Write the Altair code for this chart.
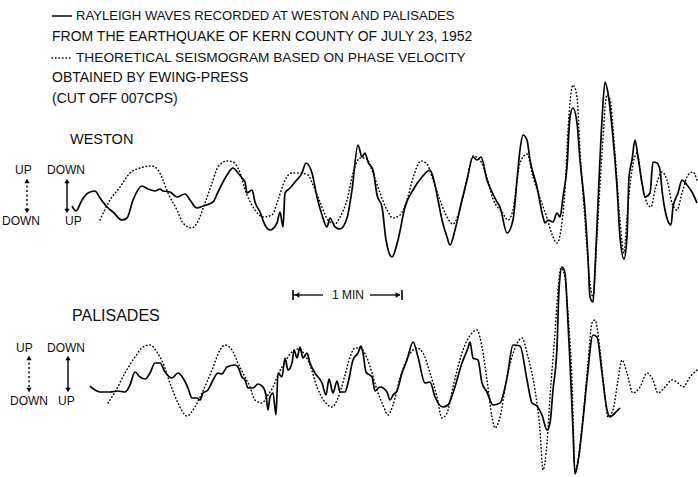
import altair as alt
import pandas as pd

# Record time (chart units along the record) and trace deflection (downward positive)
WESTON_RECORDED = [
    (72,206),(76,211),(82,200),(88,193),(95,191),(100,198),(107,207),(113,212),(122,220),(127,218),
    (133,200),(142,186),(148,189),(155,191),(160,189),(163,191),(170,192),(177,197),(185,194),(190,200),
    (197,208),(203,206),(213,202),(218,192),(227,175),(233,168),(238,173),(242,178),(245,182),(247,193),
    (252,190),(255,202),(260,212),(265,225),(270,230),(277,223),(280,212),(283,227),(285,193),(290,188),
    (295,182),(302,173),(306,163),(312,173),(317,197),(322,215),(327,227),(330,218),(335,227),(340,229),
    (347,218),(352,190),(358,145),(362,157),(365,153),(368,162),(373,170),(377,195),(382,207),(386,240),
    (392,257),(398,240),(405,207),(413,190),(422,177),(430,170),(433,177),(438,200),(442,220),(447,237),
    (450,245),(455,230),(462,200),(467,180),(473,157),(477,160),(481,157),(487,180),(492,192),(497,202),
    (500,207),(507,233),(513,220),(517,180),(520,150),(523,135),(527,140),(530,160),(537,187),(543,217),
    (545,223),(548,220),(553,222),(557,213),(560,217),(563,197),(567,167),(570,117),(573,108),(577,123),
    (580,160),(585,210),(588,257),(590,297),(593,302),(595,270),(598,203),(602,120),(605,82),(608,93),
    (612,127),(617,187),(620,237),(624,259),(627,237),(629,177),(632,160),(635,140),(638,157),(642,183),
    (645,197),(650,193),(653,162),(657,163),(660,170),(662,190),(665,210),(671,225),(673,207),(678,193),
    (682,180),(687,185),(692,192),(697,203),
]
WESTON_THEORY = [
    (100,220),(110,200),(120,187),(130,173),(140,168),(152,166),(158,170),(163,180),(168,193),(177,210),
    (183,223),(192,228),(197,223),(205,203),(212,183),(218,167),(227,161),(233,162),(238,168),(247,195),
    (255,210),(263,217),(272,215),(278,200),(285,180),(292,173),(300,173),(308,175),(313,185),(320,202),
    (328,220),(335,224),(340,217),(347,200),(353,173),(360,158),(366,158),(373,173),(380,193),(387,210),
    (393,218),(400,215),(407,200),(413,178),(421,161),(427,164),(433,180),(440,200),(447,217),(453,224),
    (460,209),(467,179),(473,156),(480,160),(487,178),(493,199),(502,212),(508,220),(513,210),(520,163),
    (527,154),(533,177),(540,198),(547,218),(553,237),(557,243),(562,222),(565,190),(568,130),(573,85),
    (577,97),(580,150),(585,220),(590,283),(593,297),(597,237),(602,153),(607,95),(610,100),(615,153),
    (620,220),(624,253),(627,217),(632,170),(637,153),(642,183),(647,203),(651,207),(655,190),(662,172),
    (667,180),(672,203),(677,210),(682,193),(688,175),(693,172),(697,180),
]
PALISADES_RECORDED = [
    (90,386),(95,390),(100,392),(110,392),(118,391),(125,392),(130,385),(135,372),(140,377),(145,379),
    (150,373),(155,363),(160,363),(165,372),(172,378),(178,373),(183,378),(188,388),(192,398),(197,398),
    (200,400),(203,393),(208,390),(213,380),(218,373),(222,374),(227,367),(235,365),(238,367),(242,377),
    (245,380),(248,388),(253,388),(258,384),(263,387),(266,395),(268,410),(270,397),(273,393),(276,415),
    (278,373),(282,377),(285,358),(288,370),(292,363),(294,350),(297,358),(300,347),(303,358),(307,353),
    (310,363),(315,373),(322,383),(326,395),(329,379),(333,393),(337,381),(340,392),(345,392),(348,383),
    (353,360),(358,353),(361,346),(363,353),(366,372),(372,377),(375,391),(380,387),(387,392),(390,400),
    (393,395),(397,391),(402,373),(407,360),(413,342),(418,357),(425,383),(430,382),(435,397),(443,407),
    (448,405),(453,393),(462,363),(468,348),(470,342),(473,358),(478,360),(482,383),(487,392),(493,405),
    (500,403),(507,378),(513,345),(520,346),(527,380),(532,403),(537,406),(542,415),(547,430),(550,423),
    (553,390),(557,347),(559,290),(562,267),(565,273),(567,303),(570,363),(573,430),(575,474),(578,462),
    (583,420),(587,380),(593,335),(597,337),(602,373),(607,410),(610,417),(615,413),(620,408),
]
PALISADES_THEORY = [
    (108,403),(115,392),(125,373),(135,357),(143,347),(150,345),(157,352),(163,363),(170,383),(178,403),
    (187,416),(193,410),(202,393),(212,370),(220,350),(225,345),(232,350),(238,363),(245,377),(250,387),
    (255,400),(262,403),(268,395),(273,387),(278,375),(285,362),(292,352),(298,349),(305,355),(310,365),
    (317,387),(325,402),(332,407),(338,398),(345,375),(350,357),(355,348),(360,348),(367,358),(372,373),
    (377,390),(383,405),(388,415),(393,405),(400,378),(408,357),(417,348),(423,353),(430,373),(437,397),
    (442,418),(447,413),(453,387),(463,350),(472,333),(477,330),(482,347),(487,380),(492,417),(495,428),
    (500,417),(507,377),(515,348),(522,338),(528,357),(535,390),(540,430),(543,470),(547,443),(550,397),
    (555,333),(558,290),(561,268),(565,277),(568,313),(572,380),(575,472),(578,460),(583,417),(588,363),
    (592,323),(595,320),(600,350),(605,397),(608,417),(613,410),(618,380),(622,360),(627,373),(633,393),
    (640,387),(647,373),(653,380),(658,393),(665,387),(672,380),(678,383),(683,387),(690,377),(697,370),
]

TITLE_LINES = [
    (76, 16, "RAYLEIGH WAVES RECORDED AT WESTON AND PALISADES", 13.1),
    (52, 37, "FROM THE EARTHQUAKE OF KERN COUNTY OF JULY 23, 1952", 14),
    (76, 58, "THEORETICAL SEISMOGRAM BASED ON PHASE VELOCITY", 13.7),
    (52, 78, "OBTAINED BY EWING-PRESS", 14),
    (52, 99, "(CUT OFF 007CPS)", 14),
]
STATION_LABELS = [(70, 140, "WESTON", 14.5), (72, 316, "PALISADES", 16)]
POLARITY_LABELS = [
    (15, 170, "UP"), (47, 170, "DOWN"), (2, 221, "DOWN"), (65, 221, "UP"),
    (16, 348, "UP"), (47, 348, "DOWN"), (10, 401, "DOWN"), (58, 401, "UP"),
]
# polarity arrows: (x, top, bottom, dotted?)
POLARITY_ARROWS = [(27, 178, 214, True), (67, 178, 214, False),
                   (29, 355, 393, True), (68, 355, 393, False)]
# one-minute scale bar
MIN_BAR = (293, 402, 295)
MIN_TEXT = (348, 295, "1 MIN")

X = alt.Scale(domain=[0, 698], nice=False, zero=False)
Y = alt.Scale(domain=[477, 0], nice=False, zero=False)


def trace_df(pts, name):
    return pd.DataFrame({"t": [p[0] for p in pts], "d": [p[1] for p in pts],
                         "i": list(range(len(pts))), "trace": name})


solid_df = pd.concat([trace_df(WESTON_RECORDED, "W"), trace_df(PALISADES_RECORDED, "P")])
dot_df = pd.concat([trace_df(WESTON_THEORY, "W"), trace_df(PALISADES_THEORY, "P")])

enc = dict(x=alt.X("t:Q", scale=X, axis=None), y=alt.Y("d:Q", scale=Y, axis=None),
           detail="trace:N", order="i:Q")

solid = alt.Chart(solid_df).mark_line(color="black", strokeWidth=1.7, interpolate="monotone").encode(**enc)
dotted = alt.Chart(dot_df).mark_line(color="black", strokeWidth=1.5, strokeDash=[0.5, 3.0],
                                     strokeCap="round", interpolate="monotone").encode(**enc)

FONT = "Liberation Sans"
title_df = pd.DataFrame({"x": [r[0] for r in TITLE_LINES], "y": [r[1] for r in TITLE_LINES],
                         "s": [r[2] for r in TITLE_LINES], "fs": [r[3] for r in TITLE_LINES]})
titles = alt.Chart(title_df).mark_text(align="left", baseline="middle", font=FONT,
                                       color="#111111").encode(
    x=alt.X("x:Q", scale=X, axis=None), y=alt.Y("y:Q", scale=Y, axis=None), text="s:N",
    size=alt.Size("fs:Q", scale=None, legend=None))

st_df = pd.DataFrame({"x": [r[0] for r in STATION_LABELS], "y": [r[1] for r in STATION_LABELS],
                      "s": [r[2] for r in STATION_LABELS], "fs": [r[3] for r in STATION_LABELS]})
stations = alt.Chart(st_df).mark_text(align="left", baseline="middle", font=FONT, color="#111111").encode(
    x=alt.X("x:Q", scale=X, axis=None), y=alt.Y("y:Q", scale=Y, axis=None), text="s:N",
    size=alt.Size("fs:Q", scale=None, legend=None))

pol_df = pd.DataFrame({"x": [r[0] for r in POLARITY_LABELS], "y": [r[1] for r in POLARITY_LABELS],
                       "s": [r[2] for r in POLARITY_LABELS]})
pol = alt.Chart(pol_df).mark_text(align="left", baseline="middle", font=FONT, fontSize=12,
                                  color="#111111").encode(
    x=alt.X("x:Q", scale=X, axis=None), y=alt.Y("y:Q", scale=Y, axis=None), text="s:N")

# legend keys beside title lines
key_df = pd.DataFrame({"x": [52, 52], "x2": [72, 73], "y": [16, 58], "k": ["solid", "dot"]})
key_solid = alt.Chart(key_df[key_df.k == "solid"]).mark_rule(color="black", strokeWidth=1.5).encode(
    x=alt.X("x:Q", scale=X, axis=None), x2="x2:Q", y=alt.Y("y:Q", scale=Y, axis=None))
key_dot = alt.Chart(key_df[key_df.k == "dot"]).mark_rule(color="black", strokeWidth=1.5,
                                                        strokeDash=[0.5, 3], strokeCap="round").encode(
    x=alt.X("x:Q", scale=X, axis=None), x2="x2:Q", y=alt.Y("y:Q", scale=Y, axis=None))

# polarity arrows
arr_df = pd.DataFrame({"x": [a[0] for a in POLARITY_ARROWS], "top": [a[1] for a in POLARITY_ARROWS],
                       "bot": [a[2] for a in POLARITY_ARROWS], "dotted": [a[3] for a in POLARITY_ARROWS]})
arr_df["top_in"] = arr_df["top"] + 3
arr_df["bot_in"] = arr_df["bot"] - 3
shaft_solid = alt.Chart(arr_df[~arr_df.dotted]).mark_rule(color="black", strokeWidth=1.4).encode(
    x=alt.X("x:Q", scale=X, axis=None), y=alt.Y("top_in:Q", scale=Y, axis=None), y2="bot_in:Q")
shaft_dot = alt.Chart(arr_df[arr_df.dotted]).mark_rule(color="black", strokeWidth=1.4,
                                                      strokeDash=[2, 2.5]).encode(
    x=alt.X("x:Q", scale=X, axis=None), y=alt.Y("top_in:Q", scale=Y, axis=None), y2="bot_in:Q")
head_up = alt.Chart(arr_df).mark_point(shape="triangle-up", filled=True, color="black", size=28,
                                       opacity=1).encode(
    x=alt.X("x:Q", scale=X, axis=None), y=alt.Y("top_in:Q", scale=Y, axis=None))
head_down = alt.Chart(arr_df).mark_point(shape="triangle-down", filled=True, color="black", size=28,
                                         opacity=1).encode(
    x=alt.X("x:Q", scale=X, axis=None), y=alt.Y("bot_in:Q", scale=Y, axis=None))

# one-minute bar
x0, x1, yb = MIN_BAR
bar_df = pd.DataFrame({"a": [x0, 370], "b": [323, x1 - 2], "y": [yb, yb]})
bar_lines = alt.Chart(bar_df).mark_rule(color="black", strokeWidth=1.3).encode(
    x=alt.X("a:Q", scale=X, axis=None), x2="b:Q", y=alt.Y("y:Q", scale=Y, axis=None))
ends_df = pd.DataFrame({"x": [x0, x1], "y1": [yb - 5, yb - 5], "y2": [yb + 5, yb + 5]})
bar_ends = alt.Chart(ends_df).mark_rule(color="black", strokeWidth=1.6).encode(
    x=alt.X("x:Q", scale=X, axis=None), y=alt.Y("y1:Q", scale=Y, axis=None), y2="y2:Q")
bh_df = pd.DataFrame({"x": [x0 + 4, x1 - 4], "y": [yb, yb], "shape": ["triangle-left", "triangle-right"]})
bar_heads = alt.Chart(bh_df).mark_point(filled=True, color="black", size=30, opacity=1).encode(
    x=alt.X("x:Q", scale=X, axis=None), y=alt.Y("y:Q", scale=Y, axis=None),
    shape=alt.Shape("shape:N", scale=None, legend=None))
min_df = pd.DataFrame({"x": [MIN_TEXT[0]], "y": [MIN_TEXT[1]], "s": [MIN_TEXT[2]]})
min_text = alt.Chart(min_df).mark_text(align="center", baseline="middle", font=FONT, fontSize=12,
                                       color="#111111").encode(
    x=alt.X("x:Q", scale=X, axis=None), y=alt.Y("y:Q", scale=Y, axis=None), text="s:N")

chart = alt.layer(
    dotted, solid, titles, stations, pol, key_solid, key_dot,
    shaft_solid, shaft_dot, head_up, head_down,
    bar_lines, bar_ends, bar_heads, min_text,
).properties(width=698, height=477, padding=0, autosize="none", background="white"
).configure_view(stroke=None)

chart.save("out.html", embed_options={"renderer": "svg", "actions": False})
